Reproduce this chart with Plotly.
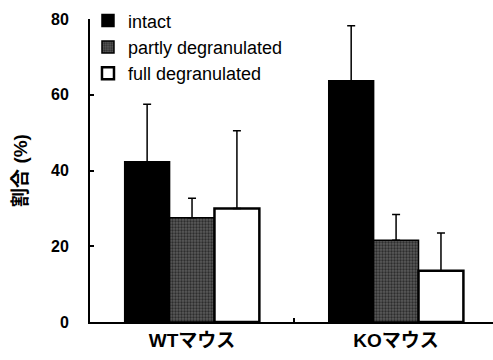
import plotly.graph_objects as go

categories = ["WTマウス", "KOマウス"]
series_names = ["intact", "partly degranulated", "full degranulated"]
intact = [42.3, 63.7]
intact_err = [15.2, 14.5]
partly = [27.5, 21.6]
partly_err = [5.2, 6.8]
full = [30.0, 13.5]
full_err = [20.5, 10.0]
y_ticks = [0, 20, 40, 60, 80]

FONT = "Arial, 'Liberation Sans', 'Noto Sans CJK JP', sans-serif"

fig = go.Figure()
styles = [
    dict(color="black", line=dict(color="black", width=1.5)),
    dict(color="#444444", line=dict(color="black", width=1.5),
         pattern=dict(shape=".", fgcolor="#000000", bgcolor="#5a5a5a", size=3, solidity=0.45)),
    dict(color="white", line=dict(color="black", width=2.5)),
]
for name, vals, errs, st in zip(series_names, [intact, partly, full],
                                [intact_err, partly_err, full_err], styles):
    fig.add_trace(go.Bar(
        name=name, x=categories, y=vals, marker=st,
        error_y=dict(type="data", symmetric=False, array=errs,
                     arrayminus=[0] * len(errs), color="black",
                     thickness=1.5, width=4),
    ))

fig.update_layout(
    width=493, height=360,
    margin=dict(l=90, r=0, t=19, b=38),
    plot_bgcolor="white", paper_bgcolor="white",
    barmode="group", bargap=0.34, bargroupgap=0,
    font=dict(family=FONT, size=16, color="black", weight="bold"),
    showlegend=True,
    legend=dict(x=-0.005, y=1.055, xanchor="left", yanchor="top",
                bgcolor="rgba(0,0,0,0)",
                font=dict(size=18, family=FONT, weight="normal"),
                tracegroupgap=0, itemwidth=30),
    xaxis=dict(range=[-0.5, 1.475], showline=True, linecolor="black", linewidth=2,
               ticks="inside", ticklen=4, tickwidth=2, tickcolor="black",
               tickson="boundaries", showgrid=False,
               tickfont=dict(size=19, family=FONT, weight="bold")),
    yaxis=dict(range=[0, 80], tickvals=y_ticks, showline=True, linecolor="black",
               linewidth=2, ticks="inside", ticklen=4, tickwidth=2,
               tickcolor="black", showgrid=False, zeroline=False,
               tickfont=dict(size=16, family=FONT, weight="bold"), ticklabelstandoff=16,
               title=dict(text="割合 (%)", font=dict(size=19, family=FONT, weight="bold"),
                          standoff=18)),
)

fig.write_html("out.html")
